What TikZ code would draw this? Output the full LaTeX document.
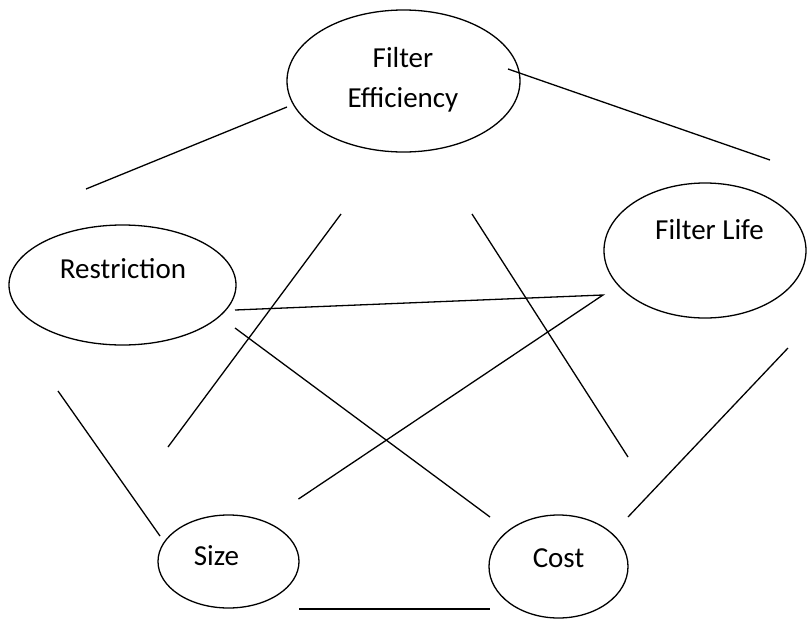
\documentclass[tikz,border=0pt]{standalone}
\usepackage{fontspec}
\setmainfont{Carlito}
\usetikzlibrary{shapes.geometric}
\begin{document}
\begin{tikzpicture}[x=1pt,y=-1pt,
  bubble/.style={draw,ellipse,line width=1.3pt,inner sep=0pt},
  lbl/.style={anchor=base,inner sep=0pt,font=\fontsize{29}{39.6}\selectfont},
  link/.style={line width=1.3pt}]
\useasboundingbox (0,0) rectangle (807,619);
% ellipses
\node[bubble,minimum width=233pt,minimum height=142pt] (fe) at (403.5,81) {};
\node[bubble,minimum width=227pt,minimum height=120pt] (re) at (122.5,285) {};
\node[bubble,minimum width=202pt,minimum height=135pt] (fl) at (705,250.5) {};
\node[bubble,minimum width=141pt,minimum height=93pt] (si) at (228.5,561.5) {};
\node[bubble,minimum width=139pt,minimum height=103pt] (co) at (558.5,566.5) {};
% labels
\node[lbl] (tfe1) at (403,67.7) {Filter};
\node[lbl] (tfe2) at (403,107.3) {Efficiency};
\node[lbl] (tre) at (123,278.3) {Restriction};
\node[lbl] (tfl) at (709.5,239) {Filter Life};
\node[lbl] (tsi) at (216.5,565) {Size};
\node[lbl] (tco) at (558.5,567) {Cost};
% line end points
\coordinate (a1) at (287,107);   \coordinate (a2) at (86,189);
\coordinate (b1) at (508,69);    \coordinate (b2) at (770,160);
\coordinate (c1) at (341,214);   \coordinate (c2) at (168,447);
\coordinate (d1) at (472,214);   \coordinate (d2) at (628,457);
\coordinate (e1) at (235,310);   \coordinate (v)  at (603,295);
\coordinate (f2) at (298.5,499);
\coordinate (g1) at (235,328);   \coordinate (g2) at (490,517);
\coordinate (h1) at (58,391);    \coordinate (h2) at (160,536);
\coordinate (i1) at (788,348);   \coordinate (i2) at (628,517);
\coordinate (j1) at (299,609);   \coordinate (j2) at (490,609);
% lines
\draw[link] (a1) -- (a2);
\draw[link] (b1) -- (b2);
\draw[link] (c1) -- (c2);
\draw[link] (d1) -- (d2);
\draw[link,line join=miter] (e1) -- (v) -- (f2);
\draw[link] (g1) -- (g2);
\draw[link] (h1) -- (h2);
\draw[link] (i1) -- (i2);
\draw[link] (j1) -- (j2);
\end{tikzpicture}
\end{document}
